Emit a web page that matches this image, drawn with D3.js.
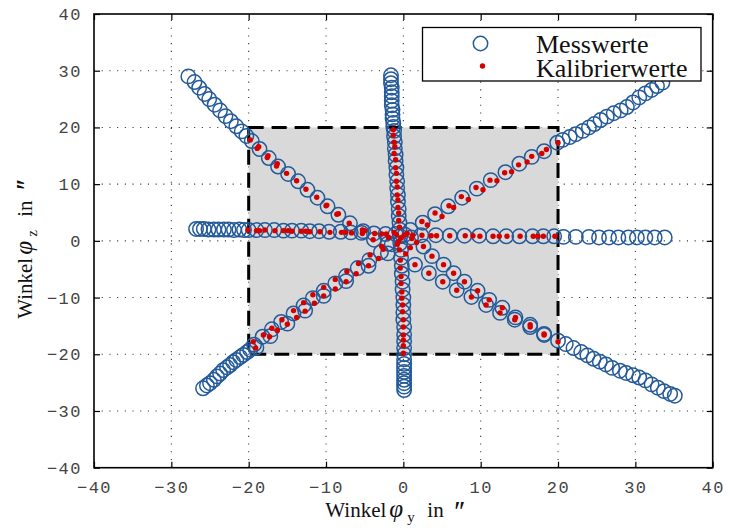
<!DOCTYPE html>
<html>
<head>
<meta charset="utf-8">
<script src="https://cdn.jsdelivr.net/npm/d3@7"></script>
<style>
  body { margin: 0; background: #fff; }
  svg { display: block; }
</style>
</head>
<body>
<div id="chart"></div>
<script>
/** Data (angles in arc seconds) **/
var xTicks = [-40, -30, -20, -10, 0, 10, 20, 30, 40];
var yTicks = [-40, -30, -20, -10, 0, 10, 20, 30, 40];
var boxRange = [-20, 20];
var legendLabels = ["Messwerte", "Kalibrierwerte"];

// Messwerte, horizontal sweep
var messH = [[-26.8,2.1],[-26.3,2.1],[-25.8,2.1],[-25.2,2.0],[-24.5,2.0],[-23.9,2.0],[-23.2,2.0],
  [-22.6,2.0],[-21.9,1.9],[-21.2,2.0],[-20.6,1.9],[-20.0,1.9],[-19.0,1.9],[-17.9,1.9],[-16.7,1.9],
  [-15.5,1.8],[-14.4,1.8],[-13.2,1.8],[-12.1,1.7],[-10.9,1.7],[-9.6,1.6],[-8.1,1.6],[-6.8,1.5],
  [-5.4,1.4],[-3.8,1.3],[-2.3,1.2],[-1.0,1.2],[0.2,1.1],[2.3,1.0],[4.2,1.0],[6.0,0.9],[7.9,0.9],
  [9.8,0.9],[11.6,0.8],[13.3,0.8],[15.0,0.8],[16.7,0.8],[18.1,0.8],[19.5,0.8],[20.7,0.7],[22.3,0.7],
  [24.0,0.7],[25.3,0.6],[26.6,0.6],[27.8,0.6],[29.1,0.6],[30.2,0.6],[31.3,0.6],[32.5,0.6],[33.8,0.6]];

// Messwerte, vertical sweep
var messV = [[-1.6,29.2],[-1.6,28.5],[-1.6,27.8],[-1.5,27.0],[-1.5,26.2],[-1.5,25.5],[-1.5,24.7],
  [-1.5,23.9],[-1.4,23.1],[-1.4,22.3],[-1.4,21.6],[-1.3,20.8],[-1.3,20.1],[-1.2,19.4],[-1.2,18.4],
  [-1.1,17.4],[-1.1,16.3],[-1.0,15.2],[-1.0,14.1],[-0.9,12.9],[-0.9,11.7],[-0.8,10.5],[-0.8,9.3],
  [-0.7,8.1],[-0.7,6.9],[-0.6,5.6],[-0.6,4.4],[-0.5,3.2],[-0.5,2.0],[-0.4,0.8],[-0.4,-0.4],
  [-0.3,-1.6],[-0.3,-3.0],[-0.2,-4.4],[-0.2,-5.8],[-0.1,-7.2],[-0.1,-8.6],[0.0,-10.0],[0.0,-11.3],
  [0.0,-12.6],[0.0,-13.9],[0.1,-15.2],[0.1,-16.5],[0.1,-17.7],[0.1,-18.9],[0.1,-20.0],[0.1,-20.9],
  [0.1,-21.7],[0.1,-22.4],[0.1,-23.1],[0.1,-23.8],[0.1,-24.5],[0.1,-25.1],[0.1,-25.7],[0.1,-26.3]];

// Messwerte, diagonal from top left to bottom right
var messD1 = [[-27.8,29.0],[-27.0,28.0],[-26.4,27.0],[-25.7,25.9],[-25.1,25.0],[-24.4,24.0],
  [-23.7,23.0],[-23.0,22.0],[-22.3,21.1],[-21.6,20.2],[-20.9,19.3],[-20.3,18.5],[-19.6,17.6],
  [-18.6,16.2],[-17.4,14.6],[-16.2,13.1],[-14.9,11.8],[-13.6,10.5],[-12.4,9.0],[-11.1,7.6],
  [-9.8,6.1],[-8.4,4.6],[-6.9,3.1],[-5.2,1.7],[-3.8,0.2],[-2.0,-0.5],[1.0,0.6],[2.6,-1.0],
  [3.7,-2.7],[5.2,-4.2],[6.5,-5.7],[7.9,-7.2],[9.6,-8.8],[11.1,-10.4],[12.8,-11.8],[14.5,-13.5],
  [16.4,-14.8],[18.2,-16.4],[20.0,-17.6],[1.5,-4.2],[3.3,-5.7],[5.1,-7.2],[6.9,-8.7],[8.8,-9.9],
  [10.7,-11.3],[12.5,-12.7],[14.4,-13.9],[16.4,-15.2],[18.2,-16.6],[21.0,-18.2],[22.0,-18.9],
  [23.0,-19.6],[23.8,-20.2],[24.6,-20.8],[25.4,-21.3],[26.2,-21.8],[27.0,-22.4],[28.0,-22.9],
  [28.8,-23.3],[29.7,-23.7],[30.5,-24.1],[31.3,-24.6],[32.1,-25.3],[32.9,-25.9],[33.7,-26.5],
  [34.5,-27.0],[35.1,-27.3]];

// Messwerte, diagonal from bottom left to top right
var messD2 = [[-25.9,-26.0],[-25.4,-25.5],[-25.0,-25.1],[-24.5,-24.5],[-24.1,-23.9],[-23.7,-23.4],
  [-23.3,-22.8],[-22.8,-22.3],[-22.4,-21.9],[-22.0,-21.4],[-21.6,-21.0],[-21.1,-20.5],[-20.7,-20.1],
  [-20.2,-19.6],[-19.8,-19.2],[-19.3,-18.3],[-18.2,-16.9],[-17.0,-15.6],[-15.8,-14.3],[-14.2,-12.8],
  [-12.9,-11.4],[-11.7,-10.1],[-10.3,-8.8],[-8.8,-7.5],[-7.4,-6.2],[-5.9,-4.8],[-4.4,-3.4],
  [-2.9,-2.0],[-1.5,-0.6],[-19.0,-18.8],[-17.2,-16.8],[-15.0,-14.6],[-12.7,-12.3],[-10.3,-9.7],
  [-7.4,-7.1],[-4.5,-4.4],[-2.0,-2.2],[0.9,1.9],[2.5,3.2],[4.1,4.7],[5.8,6.1],[7.6,7.6],[9.5,9.2],
  [11.3,10.7],[13.2,12.1],[15.0,13.6],[16.6,14.8],[18.2,15.8],[19.9,17.3],[20.6,17.8],[21.5,18.3],
  [22.3,18.8],[23.2,19.4],[24.0,20.0],[24.7,20.6],[25.5,21.3],[26.3,21.9],[27.2,22.5],[28.1,23.0],
  [28.9,23.6],[29.7,24.4],[30.5,25.3],[31.3,26.0],[32.1,26.6],[32.8,27.3],[33.5,27.9]];

// Kalibrierwerte (only inside the +-20 box)
var kalH = [[-20.1,1.9],[-19.0,1.8],[-18.6,1.8],[-17.9,1.9],[-16.6,1.8],[-15.5,1.8],[-14.9,1.8],
  [-14.4,1.7],[-13.2,1.7],[-12.6,1.7],[-12.1,1.6],[-10.8,1.6],[-9.5,1.5],[-8.0,1.5],[-7.5,1.5],
  [-6.7,1.4],[-5.3,1.3],[-3.7,1.3],[-2.8,1.2],[-2.2,1.2],[-0.9,1.1],[0.1,1.0],[1.2,1.0],[2.4,1.0],
  [3.6,0.9],[4.3,0.9],[6.0,0.9],[8.0,0.9],[9.0,0.9],[9.9,0.8],[11.6,0.8],[12.4,0.8],[13.4,0.8],
  [15.1,0.8],[16.8,0.8],[17.4,0.8],[18.1,0.8],[19.6,0.8]];

var kalV = [[-1.3,19.6],[-1.3,18.6],[-1.2,17.4],[-1.1,16.6],[-1.2,15.4],[-1.0,14.3],[-1.0,12.9],
  [-0.9,11.9],[-0.9,10.5],[-0.8,9.5],[-0.8,8.1],[-0.7,7.2],[-0.7,5.9],[-0.6,4.9],[-0.6,3.6],
  [-0.5,2.4],[-0.6,-0.1],[-0.5,-1.6],[-0.4,-3.4],[-0.4,-4.8],[-0.3,-6.3],[-0.3,-7.5],[-0.2,-9.0],
  [-0.2,-10.1],[-0.1,-11.3],[-0.1,-12.5],[0.0,-13.9],[0.0,-15.2],[0.0,-16.6],[0.0,-17.5],
  [0.0,-18.5],[0.0,-19.8]];

var kalD1 = [[-19.8,17.8],[-18.9,16.3],[-18.7,16.6],[-17.6,14.7],[-17.5,15.0],[-16.4,13.2],
  [-16.3,13.6],[-15.1,11.9],[-13.8,10.6],[-12.6,9.1],[-11.2,7.7],[-10.0,6.2],[-9.9,6.3],[-8.6,4.7],
  [-8.4,4.8],[-7.0,3.1],[-5.3,1.9],[-5.0,1.8],[-3.9,0.2],[2.6,-1.0],[3.7,-2.7],[5.2,-4.2],
  [6.5,-5.7],[7.9,-7.2],[9.6,-8.8],[11.1,-10.4],[12.8,-11.8],[14.5,-13.5],[16.4,-14.8],
  [18.2,-16.4],[20.0,-17.8],[1.5,-4.2],[3.3,-5.7],[5.1,-7.2],[6.9,-8.7],[8.8,-9.9],[10.7,-11.3],
  [12.5,-12.7],[14.4,-13.9],[16.4,-15.2],[18.2,-16.6]];

var kalD2 = [[-19.4,-17.8],[-19.1,-18.9],[-18.1,-16.6],[-17.3,-16.9],[-17.0,-15.4],[-16.3,-15.8],
  [-15.7,-13.9],[-15.0,-14.7],[-14.2,-12.3],[-13.8,-13.5],[-12.9,-10.9],[-12.7,-12.4],[-11.7,-9.5],
  [-11.5,-11.0],[-10.3,-8.2],[-10.3,-9.7],[-8.8,-6.8],[-8.8,-8.5],[-7.3,-5.4],[-7.4,-7.2],
  [-5.8,-4.0],[-6.1,-5.8],[-4.3,-2.5],[-4.5,-4.4],[-2.8,-1.0],[-3.2,-3.1],[2.4,3.4],[3.1,2.8],
  [4.1,4.9],[5.0,4.3],[5.9,6.2],[6.5,5.9],[7.5,7.8],[8.4,7.3],[9.4,9.4],[10.3,9.0],[11.2,10.7],
  [12.1,10.6],[13.1,12.0],[14.0,12.2],[14.9,13.4],[16.0,13.9],[16.6,14.9],[17.9,15.4],[18.5,16.1],
  [20.0,17.3]];

// dots around the crossing point
var kalCenter = [[-1.2,1.5],[-0.3,0.5],[0.5,1.3],[1.1,0.4],[-0.8,-0.6],[1.7,-0.3],[-2.6,-1.5],
  [0.3,-2.3],[-1.9,0.6],[0.9,-1.2]];

function drawChart()
{
	var width = 729;
	var height = 531;
	var left = 94, right = 712.7, top = 14, bottom = 467.7;

	var svg = d3.select("#chart")
		.append("svg")
		.attr("width", width)
		.attr("height", height);

	var x = d3.scaleLinear().domain([-40, 40]).range([left, right]);
	var y = d3.scaleLinear().domain([-40, 40]).range([bottom, top]);

	// dotted grid
	var grid = svg.append("g")
		.attr("stroke", "#333")
		.attr("stroke-width", 1.1)
		.attr("stroke-dasharray", "1.1,6.6");

	grid.selectAll("line.gx")
		.data(xTicks.slice(1, -1))
		.enter().append("line")
		.attr("x1", function(d) { return x(d); })
		.attr("x2", function(d) { return x(d); })
		.attr("y1", bottom)
		.attr("y2", top);

	grid.selectAll("line.gy")
		.data(yTicks.slice(1, -1))
		.enter().append("line")
		.attr("y1", function(d) { return y(d); })
		.attr("y2", function(d) { return y(d); })
		.attr("x1", left)
		.attr("x2", right);

	// grey area of the calibration range
	svg.append("rect")
		.attr("x", x(boxRange[0]))
		.attr("y", y(boxRange[1]))
		.attr("width", x(boxRange[1]) - x(boxRange[0]))
		.attr("height", y(boxRange[0]) - y(boxRange[1]))
		.attr("fill", "#d9d9d9")
		.attr("stroke", "#000")
		.attr("stroke-width", 3)
		.attr("stroke-dasharray", "15,8");

	// Messwerte
	var allMess = messH.concat(messV, messD1, messD2);
	svg.append("g")
		.selectAll("circle")
		.data(allMess)
		.enter().append("circle")
		.attr("cx", function(d) { return x(d[0]); })
		.attr("cy", function(d) { return y(d[1]); })
		.attr("r", 7.2)
		.attr("fill", "none")
		.attr("stroke", "#245a99")
		.attr("stroke-width", 1.5);

	// Kalibrierwerte
	var allKal = kalH.concat(kalV, kalD1, kalD2, kalCenter);
	svg.append("g")
		.selectAll("circle")
		.data(allKal)
		.enter().append("circle")
		.attr("cx", function(d) { return x(d[0]); })
		.attr("cy", function(d) { return y(d[1]); })
		.attr("r", 2.7)
		.attr("fill", "#d40000");

	// frame + inward ticks on all four sides
	var tickFmt = function(d) { return d < 0 ? "\u2212" + (-d) : "" + d; };

	svg.append("g")
		.attr("transform", "translate(0," + bottom + ")")
		.call(d3.axisBottom(x).tickValues(xTicks).tickSizeInner(-6).tickSizeOuter(0).tickPadding(13).tickFormat(tickFmt))
		.call(styleAxis);
	svg.append("g")
		.attr("transform", "translate(0," + top + ")")
		.call(d3.axisTop(x).tickValues(xTicks).tickSizeInner(-6).tickSizeOuter(0).tickFormat(""))
		.call(styleAxis);
	svg.append("g")
		.attr("transform", "translate(" + left + ",0)")
		.call(d3.axisLeft(y).tickValues(yTicks).tickSizeInner(-6).tickSizeOuter(0).tickPadding(12).tickFormat(tickFmt))
		.call(styleAxis);
	svg.append("g")
		.attr("transform", "translate(" + right + ",0)")
		.call(d3.axisRight(y).tickValues(yTicks).tickSizeInner(-6).tickSizeOuter(0).tickFormat(""))
		.call(styleAxis);

	svg.append("rect")
		.attr("x", left).attr("y", top)
		.attr("width", right - left).attr("height", bottom - top)
		.attr("fill", "none")
		.attr("stroke", "#000")
		.attr("stroke-width", 1.6);

	// axis titles (tspans placed from the left end of the title)
	var xt = svg.append("text")
		.attr("transform", "translate(" + ((left + right) / 2 - 78) + ",517)")
		.attr("font-family", "'Liberation Serif', 'Times New Roman', serif")
		.attr("font-size", 21)
		.attr("fill", "#111");
	axisTitle(xt, "y");

	var yt = svg.append("text")
		.attr("transform", "translate(32," + ((top + bottom) / 2 + 78) + ") rotate(-90)")
		.attr("font-family", "'Liberation Serif', 'Times New Roman', serif")
		.attr("font-size", 21)
		.attr("fill", "#111");
	axisTitle(yt, "z");

	// legend
	var lg = svg.append("g");
	lg.append("rect")
		.attr("x", 422.5).attr("y", 27.5)
		.attr("width", 278.5).attr("height", 53.5)
		.attr("fill", "#fff")
		.attr("stroke", "#000")
		.attr("stroke-width", 1.3);
	lg.append("circle")
		.attr("cx", 480.5).attr("cy", 43.5).attr("r", 7.2)
		.attr("fill", "none").attr("stroke", "#245a99").attr("stroke-width", 1.5);
	lg.append("circle")
		.attr("cx", 482.5).attr("cy", 66).attr("r", 2.7)
		.attr("fill", "#d40000");
	lg.selectAll("text")
		.data(legendLabels)
		.enter().append("text")
		.attr("x", 536)
		.attr("y", function(d, i) { return 53 + i * 23.5; })
		.attr("font-family", "'Liberation Serif', 'Times New Roman', serif")
		.attr("font-size", 26)
		.attr("fill", "#111")
		.text(function(d) { return d; });
}

function styleAxis(g)
{
	g.select(".domain").remove();
	g.selectAll(".tick line").attr("stroke", "#000").attr("stroke-width", 1.2);
	g.selectAll(".tick text")
		.attr("font-family", "'Liberation Mono', 'DejaVu Sans Mono', monospace")
		.attr("font-size", 17)
		.attr("letter-spacing", 1.5)
		.attr("fill", "#444");
}

function axisTitle(t, sub)
{
	t.append("tspan").attr("x", 0).attr("y", 0).text("Winkel");
	t.append("tspan").attr("x", 64).attr("y", 0).attr("font-size", 25).attr("font-style", "italic").text("\u03C6");
	t.append("tspan").attr("x", 82).attr("y", 5).attr("font-size", 15).text(sub);
	t.append("tspan").attr("x", 102).attr("y", 0).text("in");
	// two primes drawn big, the single double prime glyph comes out tiny
	t.append("tspan").attr("x", 127).attr("y", 4)
		.attr("font-size", 30).attr("letter-spacing", -2)
		.attr("font-style", "italic").text("\u2032\u2032");
}

drawChart();
</script>
</body>
</html>
